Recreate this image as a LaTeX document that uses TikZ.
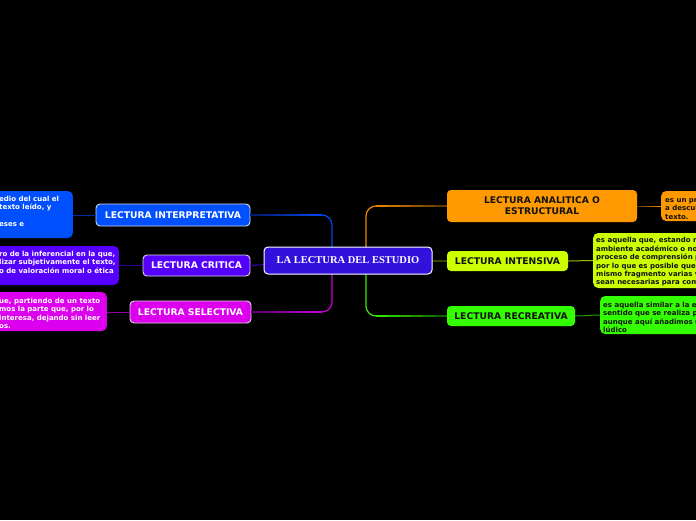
\documentclass[tikz,border=0pt]{standalone}
\usepackage{fontspec}
\setmainfont{DejaVu Sans}
\newfontfamily\serifbold{Liberation Serif}
\usetikzlibrary{calc}
\definecolor{cCen}{HTML}{3311DD}
\definecolor{cInt}{HTML}{0050FF}
\definecolor{cCri}{HTML}{5500FF}
\definecolor{cSel}{HTML}{DD00EE}
\definecolor{cAna}{HTML}{FF9900}
\definecolor{cIns}{HTML}{CCFF00}
\definecolor{cRec}{HTML}{33FF00}
\definecolor{lIntD}{HTML}{001A66}
\definecolor{lIntB}{HTML}{0048F0}
\definecolor{lCri}{HTML}{330099}
\definecolor{lSelD}{HTML}{550066}
\definecolor{lSelB}{HTML}{CC00DD}
\definecolor{lAnaD}{HTML}{553300}
\definecolor{lAnaB}{HTML}{EE8800}
\definecolor{lIns}{HTML}{556600}
\definecolor{lRecD}{HTML}{115500}
\definecolor{lRecB}{HTML}{33EE00}
\definecolor{tDark}{HTML}{111111}
\newcommand\gradln[5][1.2pt]{%
  \foreach \i in {0,1,...,5}{%
    \pgfmathsetmacro\pa{\i/6}%
    \pgfmathsetmacro\pb{(\i+1)/6}%
    \pgfmathsetmacro\pc{100-100*(\i+0.5)/6}%
    \draw[line width=#1,color=#4!\pc!#5] ($#2!\pa!#3$) -- ($#2!\pb!#3$);}}
\begin{document}
\begin{tikzpicture}[x=1pt,y=-1pt,
  cnode/.style={rounded corners=4pt,fill=cCen,draw=white,line width=1pt,text=white,
    font=\serifbold\fontsize{10.5}{12}\selectfont\bfseries,inner sep=0pt},
  brL/.style={rounded corners=4pt,draw=white!85!black,line width=0.9pt,text=white,
    font=\fontsize{9.2}{11}\selectfont\bfseries,inner sep=0pt},
  brR/.style={rounded corners=4pt,text=tDark,
    font=\fontsize{9.2}{11}\selectfont\bfseries,inner sep=0pt},
  leafbox/.style={rounded corners=5pt,inner sep=0pt},
  ltext/.style={inner sep=0pt,align=left,
    font=\fontsize{7}{8.4}\selectfont\bfseries},
  main/.style={line width=1.2pt,rounded corners=10pt},
  thin/.style={line width=1pt}]
\useasboundingbox (0,0) rectangle (696,520);
\fill[black] (0,0) rectangle (696,520);
\clip (0,0) rectangle (696,520);

% junction coordinates
\coordinate (jl) at (332,260.5);
\coordinate (jr) at (366,260.5);

% branch nodes
\node[brL,fill=cInt,minimum width=154pt,minimum height=22pt] (ip) at (173,215) {LECTURA INTERPRETATIVA};
\node[brL,fill=cCri,minimum width=107pt,minimum height=21pt] (cr) at (196.5,265.5) {LECTURA CRITICA};
\node[brL,fill=cSel,minimum width=121pt,minimum height=22pt] (se) at (190.5,312) {LECTURA SELECTIVA};
\node[brR,fill=cAna,minimum width=190pt,minimum height=32pt,align=center] (an) at (542,206) {LECTURA ANALITICA O\\ESTRUCTURAL};
\node[brR,fill=cIns,minimum width=121pt,minimum height=20pt] (in) at (507.5,261) {LECTURA INTENSIVA};
\node[brR,fill=cRec,minimum width=128pt,minimum height=20pt] (re) at (511,316) {LECTURA RECREATIVA};

% leaf boxes
\node[leafbox,fill=cInt,minimum width=90pt,minimum height=47pt,anchor=east] (ipl) at (73,214.5) {};
\node[leafbox,fill=cCri,minimum width=136pt,minimum height=39pt,anchor=east] (crl) at (119,265.5) {};
\node[leafbox,fill=cSel,minimum width=124pt,minimum height=39pt,anchor=east] (sel) at (107,311.5) {};
\node[leafbox,fill=cAna,minimum width=80pt,minimum height=30pt,anchor=west] (anl) at (661,206) {};
\node[leafbox,fill=cIns,minimum width=140pt,minimum height=55pt,anchor=west] (inl) at (593,260.5) {};
\node[leafbox,fill=cRec,minimum width=130pt,minimum height=38pt,anchor=west] (rel) at (600,315) {};

% leaf texts
\node[ltext,text=white,anchor=north west] (iptx) at (-1,195.6) {edio del cual el\\texto leído, y\\\mbox{}\\eses e};
\node[ltext,text=white,anchor=north west] (crtx) at (-1,251) {ro de la inferencial en la que,\\lizar subjetivamente el texto,\\o de valoración moral o ética};
\node[ltext,text=white,anchor=north west] (setx) at (-1,297.7) {ue, partiendo de un texto\\mos la parte que, por lo\\interesa, dejando sin leer\\os.};
\node[ltext,text=tDark,anchor=north west] (antx) at (665,196.7) {es un proceso de lectura\\a descubrir la estructura del\\texto.};
\node[ltext,text=tDark,anchor=north west] (intx) at (596,237.4) {es aquella que, estando relacionada con el\\ambiente académico o no, requiere de un\\proceso de comprensión profundo del texto,\\por lo que es posible que se lea un\\mismo fragmento varias veces, las que\\sean necesarias para comprenderlo.};
\node[ltext,text=tDark,anchor=north west] (retx) at (603,301.7) {es aquella similar a la extensiva en el\\sentido que se realiza por placer,\\aunque aquí añadimos un componente\\lúdico};

% main connectors
\coordinate (bi) at (332,215);
\coordinate (bs) at (332,312);
\coordinate (ba) at (366,206);
\coordinate (br) at (366,316);
\gradln{(ip.east)}{($(bi)+(-10,0)$)}{lIntD}{lIntB}
\draw[main,lIntB] ($(bi)+(-10.2,0)$) -- (bi) -- (jl);
\gradln{(se.east)}{($(bs)+(-10,0)$)}{lSelD}{lSelB}
\draw[main,lSelB] ($(bs)+(-10.2,0)$) -- (bs) -- (jl);
\draw[line width=1.2pt,lCri] (cr.east) -- (jl);
\gradln{(an.west)}{($(ba)+(10,0)$)}{lAnaD}{lAnaB}
\draw[main,lAnaB] ($(ba)+(10.2,0)$) -- (ba) -- (jr);
\gradln{(re.west)}{($(br)+(10,0)$)}{lRecD}{lRecB}
\draw[main,lRecB] ($(br)+(10.2,0)$) -- (br) -- (jr);
\draw[line width=1.2pt,lIns] (in.west) -- (jr);

% leaf connectors
\draw[thin,color=lIntD!60!lIntB] (ip.west) -- (ipl.east |- ip.west);
\draw[thin,lCri] (cr.west) -- (crl.east |- cr.west);
\draw[thin,color=lSelD!50!lSelB] (se.west) -- (sel.east |- se.west);
\gradln[1pt]{(an.east)}{(anl.west)}{lAnaD}{lAnaB}
\draw[thin,color=lIns!40!cIns] (in.east) to[out=0,in=180] (inl.west);
\draw[thin,color=lRecD!50!lRecB] (re.east) to[out=0,in=180] (rel.west);

% central node
\node[cnode,minimum width=168pt,minimum height=27pt] (c) at (348,260.5) {LA LECTURA DEL ESTUDIO};
\end{tikzpicture}
\end{document}
